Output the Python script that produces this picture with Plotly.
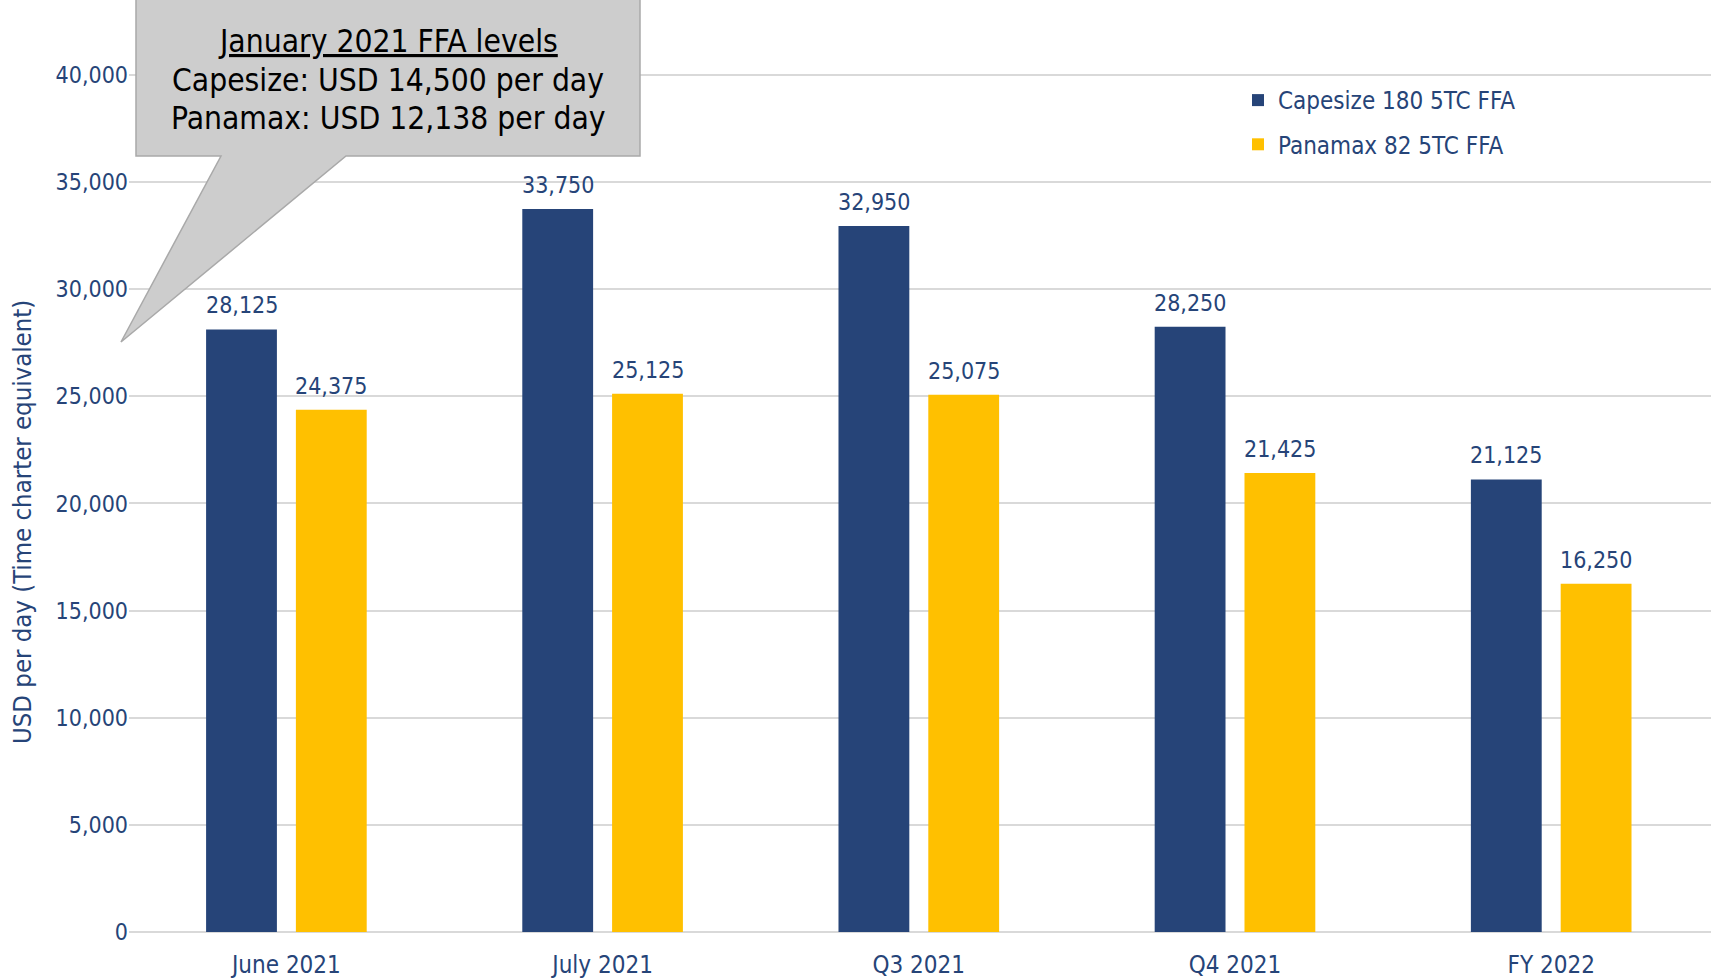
import plotly.graph_objects as go

categories = ["June 2021", "July 2021", "Q3 2021", "Q4 2021", "FY 2022"]
capesize = [28125, 33750, 32950, 28250, 21125]
panamax = [24375, 25125, 25075, 21425, 16250]
series_names = ["Capesize 180 5TC FFA", "Panamax 82 5TC FFA"]
y_ticks = [0, 5000, 10000, 15000, 20000, 25000, 30000, 35000, 40000]
callout_lines = ["January 2021 FFA levels", "Capesize: USD 14,500 per day", "Panamax: USD 12,138 per day"]
y_title = "USD per day (Time charter equivalent)"

NAVY = "#264478"
YELLOW = "#FFC000"
FONT = "DejaVu Sans Condensed, DejaVu Sans, sans-serif"

W, H = 1711, 980
ML, MR, MT, MB = 129, 0, 0, 48
PW, PH = W - ML - MR, H - MT - MB

def px(x):  # page x -> paper
    return (x - ML) / PW

def py(y):  # page y -> paper
    return 1 - (y - MT) / PH

xs = list(range(len(categories)))
offsets = [-0.254, 0.030]
bw = 0.224

fig = go.Figure()
for name, vals, col, off in zip(series_names, [capesize, panamax], [NAVY, YELLOW], offsets):
    fig.add_trace(go.Bar(
        x=xs, y=vals, name=name, marker=dict(color=col, line=dict(width=0)),
        offset=off, width=bw, legendgroup=name, hoverinfo="skip",
    ))

annotations = []
for vals, off in zip([capesize, panamax], offsets):
    for xi, v in zip(xs, vals):
        annotations.append(dict(
            x=xi + off + bw / 2, y=v, xref="x", yref="y", text=f"{v:,}",
            showarrow=False, yanchor="middle", yshift=24,
            font=dict(family=FONT, size=23, color=NAVY),
        ))

# y-axis title
annotations.append(dict(
    x=px(22), y=py(522), xref="paper", yref="paper", text=y_title,
    textangle=-90, showarrow=False, xanchor="center", yanchor="middle",
    font=dict(family=FONT, size=25.5, color=NAVY),
))

# callout shape
pts = [(136, -20), (640, -20), (640, 156), (346, 156), (121, 342), (221, 156), (136, 156)]
path = "M " + " L ".join(f"{px(x):.5f},{py(y):.5f}" for x, y in pts) + " Z"
shapes = [dict(type="path", xref="paper", yref="paper", path=path,
               fillcolor="#CDCDCD", line=dict(color="#A9A9A9", width=1.5), layer="above")]

line_y = [41, 80, 118]
for i, (txt, yy) in enumerate(zip(callout_lines, line_y)):
    annotations.append(dict(
        x=px(388), y=py(yy), xref="paper", yref="paper",
        text=("<u>" + txt + "</u>") if i == 0 else txt,
        showarrow=False, xanchor="center", yanchor="middle", align="center",
        font=dict(family=FONT, size=31.5, color="#000000"),
    ))

x_left = (ML - 286.4) / 316.2
x_right = (W - MR - 286.4) / 316.2

fig.update_layout(
    width=W, height=H,
    margin=dict(l=ML, r=MR, t=MT, b=MB, pad=0),
    paper_bgcolor="white", plot_bgcolor="white",
    barmode="overlay",
    showlegend=True,
    legend=dict(
        x=px(1238), y=py(78), xanchor="left", yanchor="top",
        font=dict(family=FONT, size=24, color=NAVY),
        bgcolor="rgba(0,0,0,0)", traceorder="grouped", tracegroupgap=10,
    ),
    xaxis=dict(
        range=[x_left, x_right], tickvals=xs, ticktext=categories, showgrid=False,
        zeroline=False, showline=False, ticks="", ticklabelstandoff=16,
        tickfont=dict(family=FONT, size=24, color=NAVY),
    ),
    yaxis=dict(
        range=[0, 43500], tickvals=y_ticks, tickformat=",", showgrid=True,
        gridcolor="#D9D9D9", gridwidth=2, zeroline=True, zerolinecolor="#D9D9D9",
        zerolinewidth=2, showline=False, ticks="",
        tickfont=dict(family=FONT, size=23, color=NAVY),
    ),
    annotations=annotations,
    shapes=shapes,
    font=dict(family=FONT, color=NAVY),
)

fig.write_html("out.html", config={"displayModeBar": False},
               post_script="document.body.style.margin='0px';")
